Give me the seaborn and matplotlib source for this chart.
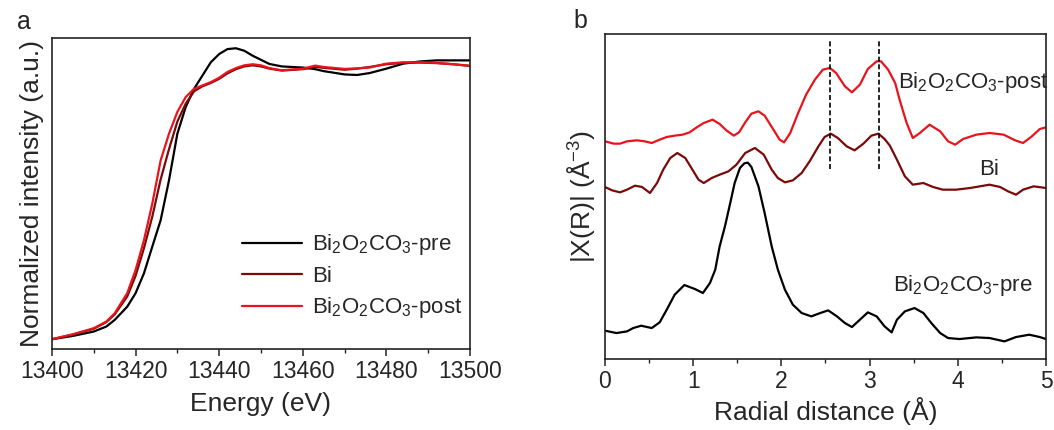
import numpy as np
import pandas as pd
import seaborn as sns
import matplotlib.pyplot as plt
from matplotlib.ticker import MultipleLocator

sns.set_style('ticks')
plt.rcParams['font.family'] = ['Liberation Sans', 'DejaVu Sans']
plt.rcParams['mathtext.fontset'] = 'custom'
plt.rcParams['mathtext.rm'] = 'Liberation Sans'
plt.rcParams['mathtext.it'] = 'Liberation Sans:italic'

# ---- panel a: XANES (normalized, post-edge ~ 1)
energy = [13400, 13405, 13410, 13413, 13415, 13418, 13420, 13422, 13424, 13426,
          13428, 13430, 13432, 13434, 13436, 13438, 13440, 13442, 13444, 13446,
          13448, 13450, 13452, 13455, 13460, 13463, 13465, 13470, 13473, 13476,
          13480, 13484, 13488, 13492, 13496, 13500]
xanes_pre = [0.000, 0.012, 0.028, 0.046, 0.070, 0.118, 0.167, 0.239, 0.336, 0.432,
             0.577, 0.746, 0.843, 0.909, 0.957, 1.005, 1.035, 1.053, 1.056, 1.047,
             1.029, 1.014, 0.999, 0.990, 0.986, 0.980, 0.973, 0.961, 0.959, 0.966,
             0.982, 1.000, 1.008, 1.012, 1.012, 1.012]
xanes_bi = [0.000, 0.017, 0.038, 0.062, 0.090, 0.155, 0.230, 0.330, 0.445, 0.580,
            0.690, 0.790, 0.855, 0.900, 0.918, 0.930, 0.945, 0.965, 0.980, 0.990,
            0.994, 0.990, 0.982, 0.975, 0.980, 0.988, 0.985, 0.978, 0.982, 0.988,
            0.998, 1.003, 1.004, 1.002, 0.998, 0.992]
xanes_post = [0.000, 0.018, 0.040, 0.064, 0.094, 0.167, 0.251, 0.359, 0.492, 0.649,
              0.746, 0.825, 0.879, 0.909, 0.921, 0.933, 0.949, 0.970, 0.984, 0.994,
              0.998, 0.994, 0.984, 0.976, 0.982, 0.993, 0.988, 0.981, 0.983, 0.986,
              1.000, 1.005, 1.005, 1.003, 0.998, 0.992]

# ---- panel b: FT-EXAFS magnitude (curves offset as in figure)
r_pre = [0.00, 0.13, 0.25, 0.32, 0.41, 0.53, 0.62, 0.70, 0.79, 0.90,
         1.02, 1.11, 1.19, 1.25, 1.30, 1.36, 1.42, 1.47, 1.53, 1.58,
         1.62, 1.66, 1.74, 1.81, 1.89, 1.96, 2.04, 2.13, 2.23, 2.34,
         2.44, 2.53, 2.63, 2.72, 2.80, 2.89, 2.98, 3.08, 3.17, 3.25,
         3.31, 3.40, 3.51, 3.61, 3.70, 3.80, 3.89, 4.02, 4.21, 4.36,
         4.53, 4.66, 4.81, 4.93, 5.00]
ft_pre = [0.85, 0.78, 0.83, 0.93, 1.00, 0.93, 1.10, 1.48, 1.93, 2.22,
          2.10, 1.98, 2.28, 2.68, 3.38, 3.98, 4.68, 5.28, 5.73, 5.87,
          5.89, 5.76, 5.18, 4.38, 3.38, 2.68, 2.08, 1.63, 1.38, 1.28,
          1.38, 1.46, 1.28, 1.08, 0.96, 1.18, 1.40, 1.28, 0.98, 0.80,
          1.18, 1.43, 1.53, 1.38, 1.08, 0.78, 0.63, 0.60, 0.65, 0.63,
          0.53, 0.66, 0.73, 0.66, 0.60]
r_bi = [0.00, 0.08, 0.17, 0.25, 0.34, 0.42, 0.51, 0.59, 0.66, 0.74,
        0.82, 0.91, 0.98, 1.06, 1.12, 1.21, 1.30, 1.40, 1.49, 1.59,
        1.70, 1.80, 1.89, 1.96, 2.04, 2.13, 2.23, 2.32, 2.42, 2.49,
        2.56, 2.64, 2.74, 2.83, 2.93, 3.02, 3.10, 3.17, 3.23, 3.31,
        3.40, 3.49, 3.61, 3.72, 3.83, 3.98, 4.14, 4.25, 4.36, 4.48,
        4.57, 4.66, 4.74, 4.86, 5.00]
ft_bi = [5.16, 5.06, 5.00, 5.08, 5.20, 5.16, 4.98, 5.28, 5.68, 6.03,
         6.18, 6.03, 5.73, 5.38, 5.28, 5.43, 5.53, 5.63, 5.83, 6.18,
         6.33, 6.13, 5.68, 5.43, 5.30, 5.36, 5.58, 5.93, 6.38, 6.66,
         6.76, 6.63, 6.38, 6.26, 6.46, 6.70, 6.76, 6.60, 6.40, 5.98,
         5.48, 5.23, 5.28, 5.16, 5.08, 5.08, 5.13, 5.18, 5.23, 5.16,
         5.03, 4.93, 5.08, 5.18, 5.13]
r_post = [0.00, 0.10, 0.17, 0.25, 0.36, 0.45, 0.53, 0.62, 0.70, 0.79,
          0.88, 0.96, 1.04, 1.12, 1.22, 1.30, 1.38, 1.46, 1.52, 1.59,
          1.66, 1.74, 1.81, 1.91, 1.98, 2.03, 2.10, 2.19, 2.28, 2.38,
          2.47, 2.55, 2.62, 2.72, 2.80, 2.89, 2.98, 3.08, 3.13, 3.21,
          3.29, 3.34, 3.42, 3.49, 3.57, 3.68, 3.80, 3.89, 3.97, 4.06,
          4.21, 4.36, 4.52, 4.65, 4.74, 4.84, 4.93, 5.00]
ft_post = [6.53, 6.46, 6.46, 6.53, 6.56, 6.53, 6.48, 6.58, 6.66, 6.70,
           6.73, 6.80, 6.95, 7.08, 7.18, 7.05, 6.85, 6.70, 6.80, 7.10,
           7.36, 7.43, 7.30, 6.88, 6.58, 6.50, 6.78, 7.38, 7.93, 8.38,
           8.68, 8.73, 8.58, 8.18, 8.00, 8.23, 8.70, 8.93, 8.93, 8.68,
           8.28, 7.78, 7.08, 6.63, 6.78, 7.03, 6.83, 6.53, 6.43, 6.60,
           6.73, 6.78, 6.73, 6.56, 6.48, 6.68, 6.90, 6.95]
peaks = [2.55, 3.11]

black = '#000000'
dark_red = '#7a0a0a'
red = '#e8141c'

labels = {'pre': r'Bi$_2$O$_2$CO$_3$-pre', 'Bi': 'Bi', 'post': r'Bi$_2$O$_2$CO$_3$-post'}
colors = {'pre': black, 'Bi': dark_red, 'post': red}

xanes = {'pre': xanes_pre, 'Bi': xanes_bi, 'post': xanes_post}
exafs = {'pre': (r_pre, ft_pre), 'Bi': (r_bi, ft_bi), 'post': (r_post, ft_post)}

fig = plt.figure(figsize=(10.54, 4.30), dpi=100)
ax1 = fig.add_axes([0.0493, 0.188, 0.3966, 0.7235])
ax2 = fig.add_axes([0.574, 0.165, 0.4184, 0.756])

for s in ['pre', 'Bi', 'post']:
    d = pd.DataFrame({'E': energy, 'mu': xanes[s]})
    sns.lineplot(data=d, x='E', y='mu', ax=ax1, color=colors[s], lw=1.6,
                 label=labels[s], solid_joinstyle='round')
    d = pd.DataFrame({'R': exafs[s][0], 'ft': exafs[s][1]})
    sns.lineplot(data=d, x='R', y='ft', ax=ax2, color=colors[s], lw=1.6,
                 legend=False, solid_joinstyle='round')

# panel a
ax1.set_xlim(13400, 13500)
ax1.set_ylim(-0.036, 1.093)
ax1.xaxis.set_major_locator(MultipleLocator(20))
ax1.xaxis.set_minor_locator(MultipleLocator(10))
ax1.set_yticks([])
ax1.set_xlabel('Energy (eV)', fontsize=19, labelpad=6)
ax1.set_ylabel('Normalized intensity (a.u.)', fontsize=19, labelpad=6)
ax1.legend(loc='upper left', bbox_to_anchor=(0.455, 0.375), frameon=False, fontsize=16,
           handlelength=2.7, labelspacing=0.38, handletextpad=0.45,
           borderpad=0, borderaxespad=0)

# panel b
ax2.vlines(peaks, 5.70, 9.58, colors='black', linestyles=(0, (3, 1.6)), lw=1.2)
ax2.set_xlim(0, 5)
ax2.set_ylim(0, 9.75)
ax2.xaxis.set_major_locator(MultipleLocator(1))
ax2.xaxis.set_minor_locator(MultipleLocator(0.5))
ax2.set_yticks([])
ax2.set_xlabel('Radial distance (Å)', fontsize=19, labelpad=3)
ax2.set_ylabel('|X(R)| (Å$^{-3}$)', fontsize=19, labelpad=6)
ax2.text(3.32, 8.28, r'Bi$_2$O$_2$CO$_3$-post', fontsize=16, va='center')
ax2.text(4.35, 5.68, 'Bi', fontsize=16, va='center', ha='center')
ax2.text(3.26, 2.2, r'Bi$_2$O$_2$CO$_3$-pre', fontsize=16, va='center')

# panel letters
fig.text(24 / 1054, 1 - 22 / 430, 'a', fontsize=18, va='center', ha='center')
fig.text(580 / 1054, 1 - 21 / 430, 'b', fontsize=18, va='center', ha='center')

for ax in (ax1, ax2):
    for sp in ax.spines.values():
        sp.set_linewidth(1.2)
        sp.set_color('#222222')
    ax.tick_params(axis='x', which='major', direction='out', length=5, width=1.1,
                   labelsize=16.5, pad=3)
    ax.tick_params(axis='x', which='minor', direction='out', length=3, width=1.0)
    ax.tick_params(axis='y', left=False)

fig.savefig('out.png', dpi=100)
